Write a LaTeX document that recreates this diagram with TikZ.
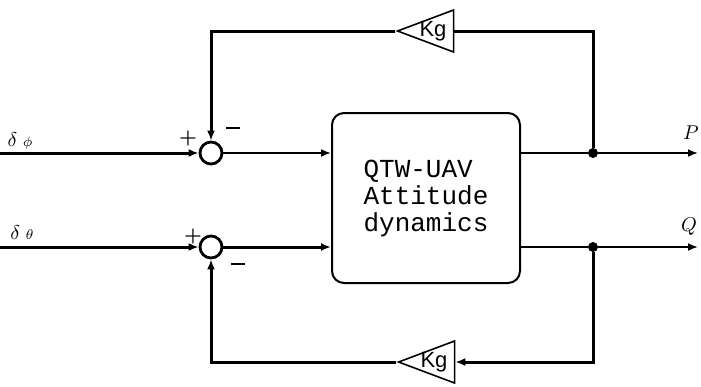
\documentclass[tikz,border=0pt]{standalone}
\usepackage{fontspec}
\newfontfamily\blockfont{Liberation Mono}
\newfontfamily\gainfont{Liberation Sans}
\usetikzlibrary{arrows.meta,shapes.geometric}

\begin{document}
\begin{tikzpicture}[x=0.5pt,y=-0.5pt,font=\small,
  >={Latex[length=5pt,width=4pt]},
  sig/.style={line width=1.5pt},
  thinsig/.style={line width=0.9pt},
  sumj/.style={circle,draw,line width=1.4pt,minimum size=11pt,inner sep=0pt},
  gain/.style={isosceles triangle,isosceles triangle stretches,shape border rotate=180,
    draw,line width=0.8pt,inner sep=0pt,minimum width=21pt,minimum height=28pt},
  gaintxt/.style={font=\gainfont\fontsize{11}{11}\selectfont},
  tap/.style={circle,fill,inner sep=0pt,minimum size=5pt},
  plant/.style={draw,line width=1pt,rounded corners=6pt,minimum width=94pt,
    minimum height=85pt,align=left,font=\blockfont\fontsize{13}{13.5}\selectfont}]
  \useasboundingbox (0,0) rectangle (701,386);

  % blocks
  \node[sumj] (sum1) at (211,153) {};
  \node[sumj] (sum2) at (211,247) {};
  \node[plant] (plant) at (426,198) {QTW-UAV\\Attitude\\dynamics};
  \node[gain] (kg1) at (439,31) {};
  \node[gain] (kg2) at (440,362) {};
  \node[gaintxt] (kg1txt) at (433,31) {Kg};
  \node[gaintxt] (kg2txt) at (434,362) {Kg};
  \node[tap] (tap1) at (593,153) {};
  \node[tap] (tap2) at (593,247) {};

  % ends
  \coordinate (in1) at (0,153);
  \coordinate (in2) at (0,247);
  \coordinate (outP) at (698,153);
  \coordinate (outQ) at (698,247);

  % forward path
  \draw[sig,->] (in1) -- (sum1.west);
  \draw[sig,->] (in2) -- (sum2.west);
  \draw[thinsig,->] (sum1.east) -- (plant.west |- sum1);
  \draw[sig,->] (sum2.east) -- (plant.west |- sum2);
  \draw[thinsig] (plant.east |- tap1) -- (tap1);
  \draw[thinsig] (plant.east |- tap2) -- (tap2);
  \draw[thinsig,->] (tap1) -- (outP);
  \draw[thinsig,->] (tap2) -- (outQ);

  % feedback
  \draw[sig] (tap1) -- (tap1 |- kg1) -- (kg1.lower side);
  \draw[sig,->] (kg1.apex) -- (sum1 |- kg1) -- (sum1.north);
  \draw[sig,->] (tap2) -- (tap2 |- kg2) -- (kg2.lower side);
  \draw[sig,->] (kg2.apex) -- (sum2 |- kg2) -- (sum2.south);

  % labels
  \node[font=\normalsize] (dphi) at (20,141) {\(\delta\;{\scriptstyle\phi}\)};
  \node[font=\normalsize] (dtheta) at (22,233) {\(\delta\;{\scriptstyle\theta}\)};
  \node[font=\normalsize] (lp) at (691,133) {\(P\)};
  \node[font=\normalsize] (lq) at (689,227) {\(Q\)};
  \node[font=\bfseries] (p1) at (188,138) {+};
  \node (m1) at (233,128) {\rule{7pt}{1.3pt}};
  \node[font=\bfseries] (p2) at (193,236) {+};
  \node (m2) at (238,264) {\rule{7pt}{1.3pt}};
\end{tikzpicture}
\end{document}
